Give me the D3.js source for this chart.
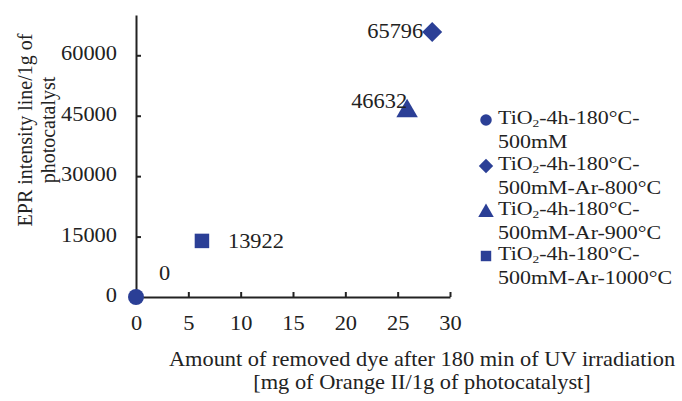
<!DOCTYPE html>
<html><head><meta charset="utf-8">
<script src="https://cdn.jsdelivr.net/npm/d3@7"></script>
<style>body{margin:0;background:#fff}text{font-family:"Liberation Serif","Times New Roman",serif;fill:#222}</style>
</head><body><svg id="c" width="682" height="401"></svg>
<script>
const seriesNames = ["TiO2-4h-180°C-500mM","TiO2-4h-180°C-500mM-Ar-800°C","TiO2-4h-180°C-500mM-Ar-900°C","TiO2-4h-180°C-500mM-Ar-1000°C"];
const xValues = [0, 28.3, 25.9, 6.3];
const yValues = [0, 65796, 46632, 13922];
const pointLabels = ["0","65796","46632","13922"];
const symbols = ["circle","diamond","triangle","square"];
const xTicks = [0,5,10,15,20,25,30];
const yTicks = [0,15000,30000,45000,60000];

const svg = d3.select("#c");
const col = "#2B3F96";
const FS = "20px", SX = 1.12;
const x = d3.scaleLinear().domain([0,30]).range([136,450]);
const y = d3.scaleLinear().domain([0,70000]).range([297,15]);

function htext(px, py, str, anchor, fs, sx){
  const g = svg.append("g").attr("transform",`translate(${px},${py}) scale(${sx||SX},1)`);
  return g.append("text").attr("text-anchor",anchor||"start").attr("dominant-baseline","middle")
    .style("font-size",fs||FS).text(str);
}

const xa = svg.append("g").attr("transform","translate(0,297)")
  .call(d3.axisBottom(x).tickValues(xTicks).tickFormat(d3.format("d")).tickSizeInner(-5).tickSizeOuter(0));
const ya = svg.append("g").attr("transform","translate(136,0)")
  .call(d3.axisLeft(y).tickValues(yTicks).tickFormat(d3.format("d")).tickSizeInner(-5).tickSizeOuter(0));
[xa,ya].forEach(a=>{
  a.select(".domain").attr("stroke","#222").attr("stroke-width",2);
  a.selectAll(".tick line").attr("stroke","#222").attr("stroke-width",2);
  a.selectAll("text").style("font-family","Liberation Serif").style("font-size",FS).attr("fill","#222")
    .attr("x",0).attr("y",0).attr("dy",null).attr("dominant-baseline","middle");
});
xa.selectAll(".tick text").attr("transform",`translate(0,28) scale(${SX},1)`);
ya.selectAll(".tick text").attr("transform",`translate(-19,0) scale(${SX},1)`);

const symMap = {circle:d3.symbolCircle, triangle:d3.symbolTriangle, square:d3.symbolSquare};
function marker(type, cx, cy, s){
  if(type==="diamond"){
    const h = 10*s;
    return svg.append("path").attr("d",`M${cx},${cy-h}L${cx+h},${cy}L${cx},${cy+h}L${cx-h},${cy}Z`).attr("fill",col);
  }
  const sizes = {circle:200, triangle:200, square:210};
  return svg.append("path").attr("d", d3.symbol().type(symMap[type]).size(sizes[type]*s*s)())
    .attr("transform",`translate(${cx},${cy + (type==="triangle"?2*s:0)})`).attr("fill",col);
}
xValues.forEach((xv,i)=> marker(symbols[i], x(xv), y(yValues[i]), 1));

// data labels
const lblOff = [[23,-22,"start"],[-9,1,"end"],[0,-6,"end"],[26,2,"start"]];
xValues.forEach((xv,i)=>{
  htext(x(xv)+lblOff[i][0], y(yValues[i])+lblOff[i][1], pointLabels[i], lblOff[i][2]);
});

// axis titles
const yt = svg.append("text").attr("transform","translate(25,130) rotate(-90)").attr("text-anchor","middle").style("font-size",FS);
yt.append("tspan").attr("x",0).attr("dy","0.35em").text("EPR intensity line/1g of");
yt.append("tspan").attr("x",0).attr("dy","1.15em").text("photocatalyst");
htext(422, 361, "Amount of removed dye after 180 min of UV irradiation", "middle");
htext(422, 384, "[mg of Orange II/1g of photocatalyst]", "middle");

// legend
const legY = [120,166,211,256];
const LFS = "18px", LSX = 1.22;
seriesNames.forEach((n,i)=>{
  marker(symbols[i], 486, legY[i], 0.72);
  const t = htext(498, legY[i], "", "start", LFS, LSX);
  t.append("tspan").text("TiO");
  t.append("tspan").style("font-size","11px").attr("dy","4").text("2");
  t.append("tspan").attr("dy","-4").text("-4h-180°C-");
  htext(498, legY[i]+24, n.replace("TiO2-4h-180°C-",""), "start", LFS, LSX);
});
</script></body></html>
